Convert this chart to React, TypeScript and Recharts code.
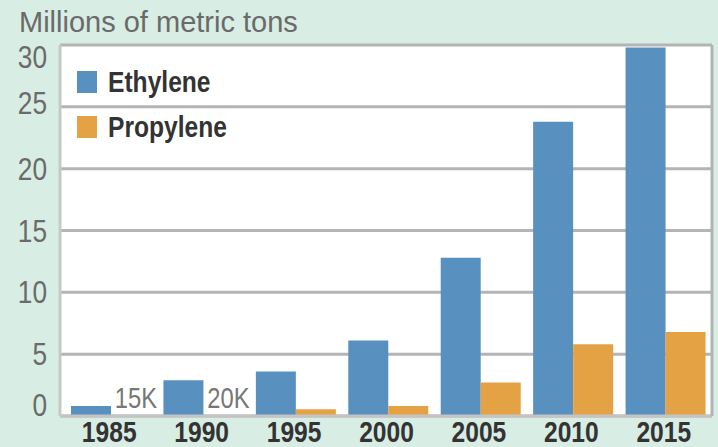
import { BarChart, Bar, XAxis, YAxis, CartesianGrid, Legend, LabelList } from 'recharts';

const years = ['1985', '1990', '1995', '2000', '2005', '2010', '2015'];
const ethylene = [0.8, 2.9, 3.6, 6.1, 12.8, 23.8, 29.8];
const propylene = [0.015, 0.02, 0.55, 0.8, 2.7, 5.8, 6.8];
const propyleneLabels = ['15K', '20K', '', '', '', '', ''];
const yTicks = [0, 5, 10, 15, 20, 25, 30];

const data = years.map((year, i) => ({
  year,
  ethylene: ethylene[i],
  propylene: propylene[i],
  label: propyleneLabels[i],
}));

const FONT = '"Liberation Sans", Arial, sans-serif';
const SQUEEZE = 0.82; // the original uses a condensed face
const BLUE = '#5891c0';
const ORANGE = '#e5a244';

// labels at the ends sit inside the plot
const yShift: Record<number, number> = { 30: 12, 25: -4, 0: -11 };

const Narrow = ({ x, y, anchor, children, ...rest }: any) => (
  <g transform={`translate(${x},${y}) scale(${SQUEEZE},1)`}>
    <text x={0} y={0} textAnchor={anchor} fontFamily={FONT} {...rest}>
      {children}
    </text>
  </g>
);

const YTick = ({ x, y, payload }: any) => (
  <Narrow x={x} y={y + (yShift[payload.value] || 0) + 11} anchor="end" fontSize={32} fill="#6a6a6a">
    {payload.value}
  </Narrow>
);

const XTick = ({ x, y, payload }: any) => (
  <Narrow x={x - 2} y={y + 26} anchor="middle" fontSize={30} fontWeight="bold" fill="#333">
    {payload.value}
  </Narrow>
);

const ValueLabel = ({ x, y, width, value }: any) =>
  value ? (
    <Narrow x={x + width / 2 + 5} y={y - 8} anchor="middle" fontSize={29} fill="#777">
      {value}
    </Narrow>
  ) : null;

const LegendBox = () => (
  <div style={{ fontFamily: FONT, fontWeight: 'bold', fontSize: 30, color: '#333' }}>
    {[
      { name: 'Ethylene', color: BLUE },
      { name: 'Propylene', color: ORANGE },
    ].map((it) => (
      <div key={it.name} style={{ display: 'flex', alignItems: 'center', height: 45 }}>
        <span style={{ width: 20, height: 22, background: it.color, marginRight: 11, display: 'inline-block', flex: 'none' }} />
        <span style={{ lineHeight: '30px', display: 'inline-block', transform: `scaleX(${SQUEEZE})`, transformOrigin: 'left center', whiteSpace: 'nowrap' }}>
          {it.name}
        </span>
      </div>
    ))}
  </div>
);

export default function App() {
  return (
    <div style={{ position: 'absolute', left: 0, top: 0, width: 718, height: 447, background: '#d8ede4', overflow: 'hidden' }}>
      <div
        style={{
          position: 'absolute',
          left: 19,
          top: 8,
          fontFamily: FONT,
          fontSize: 29,
          lineHeight: '29px',
          color: '#6a6a6a',
          whiteSpace: 'nowrap',
        }}
      >
        Millions of metric tons
      </div>
      <BarChart
        width={718}
        height={447}
        data={data}
        margin={{ top: 45, right: 0, bottom: 0, left: 0 }}
        barGap={0}
        barSize={40}
      >
        <CartesianGrid vertical={false} fill="#fff" stroke="#b4b4b4" strokeWidth={3} />
        <XAxis
          dataKey="year"
          height={31}
          padding={{ left: 5, right: 0 }}
          tick={<XTick />}
          tickLine={false}
          tickSize={0}
          tickMargin={0}
          axisLine={{ stroke: '#c4c4c4', strokeWidth: 3 }}
        />
        <YAxis
          width={60}
          domain={[0, 30]}
          ticks={yTicks}
          interval={0}
          tick={<YTick />}
          tickLine={false}
          tickSize={0}
          tickMargin={13}
          axisLine={{ stroke: '#c5cac7', strokeWidth: 3 }}
        />
        <YAxis
          yAxisId="r"
          orientation="right"
          width={6}
          domain={[0, 30]}
          tick={false}
          tickLine={false}
          axisLine={{ stroke: '#b0b6b3', strokeWidth: 3 }}
        />
        <Legend
          layout="horizontal"
          verticalAlign="middle"
          align="center"
          content={<LegendBox />}
          wrapperStyle={{ left: 77, top: 59, width: 'auto' }}
        />
        <Bar dataKey="ethylene" fill={BLUE} isAnimationActive={false} />
        <Bar dataKey="propylene" fill={ORANGE} isAnimationActive={false}>
          <LabelList dataKey="label" content={<ValueLabel />} />
        </Bar>
      </BarChart>
    </div>
  );
}
